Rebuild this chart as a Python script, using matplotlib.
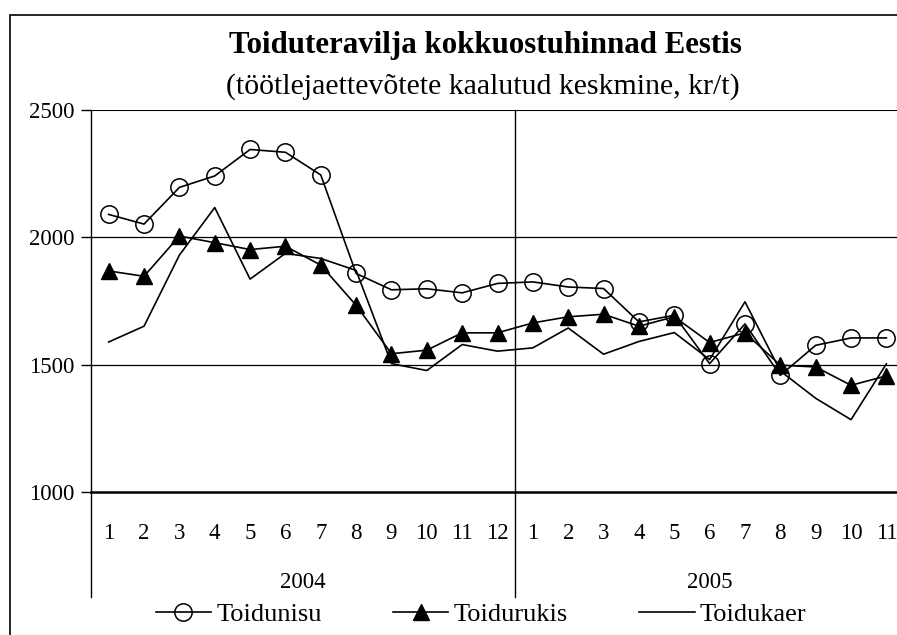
import matplotlib
matplotlib.use("Agg")
import matplotlib.pyplot as plt
from matplotlib.patches import Rectangle
import matplotlib.transforms as mtransforms

plt.rcParams['font.family'] = ['Liberation Serif', 'DejaVu Serif']

# ---- data ----
month_labels = ['1', '2', '3', '4', '5', '6', '7', '8', '9', '10', '11', '12',
                '1', '2', '3', '4', '5', '6', '7', '8', '9', '10', '11']
years = ['2004', '2005']
year_lengths = [12, 11]
toidunisu = [2090, 2052, 2196, 2241, 2345, 2334, 2245, 1858, 1794, 1798, 1782, 1819,
             1825, 1805, 1799, 1668, 1694, 1504, 1660, 1458, 1576, 1605, 1605]
toidurukis = [1868, 1847, 2005, 1979, 1952, 1965, 1891, 1733, 1543, 1557, 1625, 1625,
              1664, 1688, 1698, 1651, 1688, 1587, 1625, 1498, 1491, 1419, 1456]
toidukaer = [1589, 1651, 1930, 2117, 1836, 1937, 1917, 1870, 1504, 1477, 1579, 1553,
             1566, 1644, 1541, 1591, 1626, 1520, 1747, 1475, 1368, 1284, 1503]
yticks = [1000, 1500, 2000, 2500]

W, H = 897, 635
fig = plt.figure(figsize=(W / 100, H / 100), dpi=100)

# outer chart frame (cropped at right/bottom)
fig.patches.append(Rectangle((10 / W, -0.05), 1.1, (H - 15) / H + 0.05,
                             transform=fig.transFigure, fill=False,
                             edgecolor='black', linewidth=1.2))

left_px, right_px, top_px, bot_px = 91, 897, 110, 492
ax = fig.add_axes([left_px / W, (H - bot_px) / H,
                   (right_px - left_px) / W, (bot_px - top_px) / H])

x = list(range(len(month_labels)))
ax.plot(x, toidunisu, color='black', lw=1.2, marker='o', ms=12.5,
        mfc='none', mec='black', mew=1.1, label='Toidunisu', zorder=3)
ax.plot(x, toidurukis, color='black', lw=1.2, marker='^', ms=11.5,
        mfc='black', mec='black', label='Toidurukis', zorder=4)
ax.plot(x, toidukaer, color='black', lw=1.2, label='Toidukaer', zorder=5)

cat_w = 35.35
ax.set_xlim(-0.5, -0.5 + (right_px - left_px) / cat_w)
ax.set_ylim(1000, 2500)
ax.set_yticks(yticks)
ax.set_yticklabels([str(v) for v in yticks], fontsize=16.5)
ax.tick_params(axis='y', direction='out', length=7, width=1, pad=5)
ax.set_xticks(x)
ax.set_xticklabels(month_labels, fontsize=16.5)
ax.tick_params(axis='x', length=0, pad=22)

for v in yticks[1:-1]:
    ax.axhline(v, color='black', lw=0.9, zorder=1)
ax.axhline(yticks[-1], color='black', lw=1.5, zorder=1)

for s in ['top', 'right']:
    ax.spines[s].set_visible(False)
ax.spines['bottom'].set_linewidth(1.8)
ax.spines['left'].set_linewidth(1.0)

trans = mtransforms.blended_transform_factory(ax.transData, ax.transAxes)
low = -(597 - bot_px) / (bot_px - top_px)
# year separators / group boundaries
start = -0.5
bounds = [start]
for n in year_lengths:
    start += n
    bounds.append(start)
ax.plot([bounds[0], bounds[0]], [0, low], color='black', lw=1.0,
        transform=trans, clip_on=False)
ax.plot([bounds[1], bounds[1]], [1, low], color='black', lw=1.0,
        transform=trans, clip_on=False, zorder=2)
ylab = -(583 - bot_px) / (bot_px - top_px)
for yr, a, b in zip(years, bounds[:-1], bounds[1:]):
    ax.text((a + b) / 2, ylab, yr, transform=trans, ha='center', va='center',
            fontsize=16.5)

fig.text(485 / W, 1 - 45 / H, 'Toiduteravilja kokkuostuhinnad Eestis',
         ha='center', va='center', fontsize=22.2, fontweight='bold')
fig.text(483 / W, 1 - 87 / H, '(töötlejaettevõtete kaalutud keskmine, kr/t)',
         ha='center', va='center', fontsize=21.5)

leg = fig.legend(loc='center', bbox_to_anchor=(481 / W, 1 - 614 / H), ncol=3,
                 frameon=False, fontsize=19, handlelength=2.1,
                 handletextpad=0.2, columnspacing=2.7, borderpad=0,
                 borderaxespad=0)

fig.savefig('out.png', dpi=100)
